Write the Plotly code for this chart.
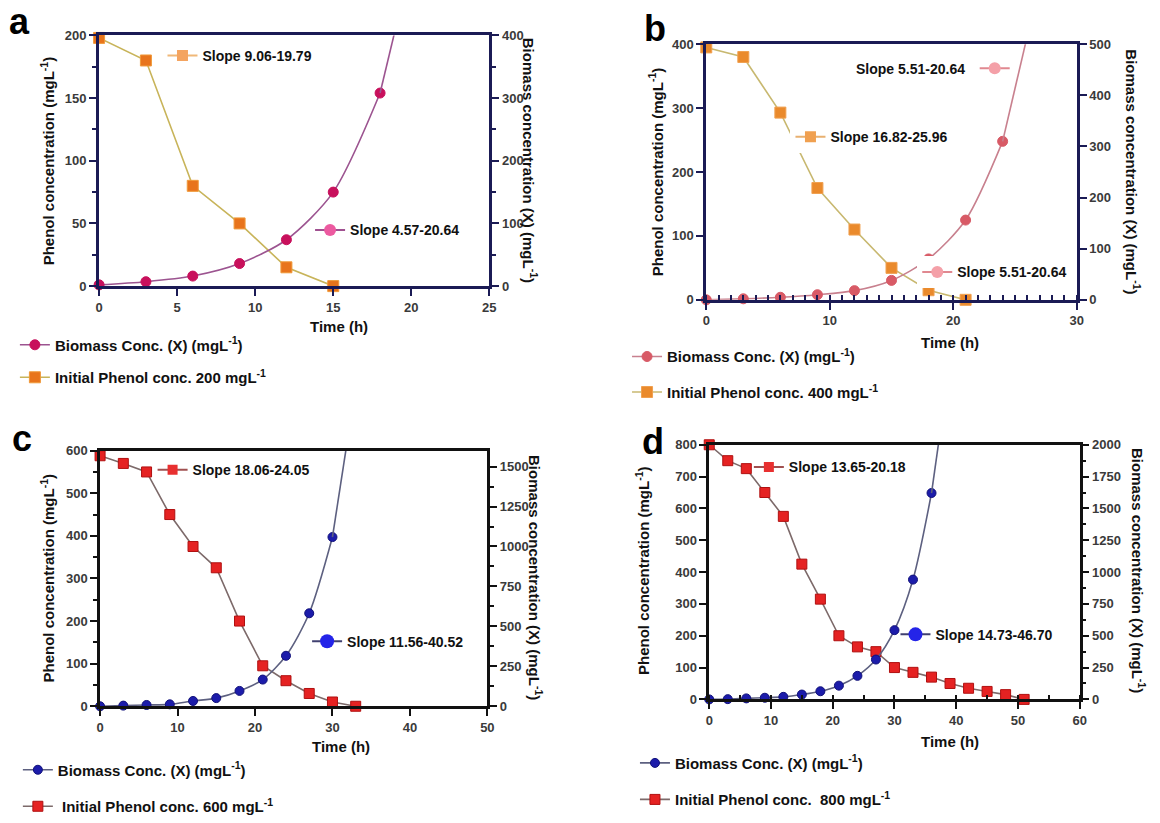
import plotly.graph_objects as go

W, H = 1160, 823
FONT = "Liberation Sans, Arial, Helvetica, sans-serif"

# ---------------- data ----------------
time_phenol_a = [0, 3, 6, 9, 12, 15]
phenol_a = [198, 180, 80, 50, 15, 0]
time_biomass_a = [0, 3, 6, 9, 12, 15, 18, 21]
biomass_a = [2, 7, 16, 36, 74, 150, 308, 620]

time_phenol_b = [0, 3, 6, 9, 12, 15, 18, 21]
phenol_b = [395, 380, 293, 175, 110, 50, 15, 0]
time_biomass_b = [0, 3, 6, 9, 12, 15, 18, 21, 24, 27]
biomass_b = [0, 2, 5, 10, 18, 38, 80, 156, 310, 620]

time_phenol_c = [0, 3, 6, 9, 12, 15, 18, 21, 24, 27, 30, 33]
phenol_c = [588, 570, 550, 450, 375, 325, 200, 95, 60, 30, 10, 0]
time_biomass_c = [0, 3, 6, 9, 12, 15, 18, 21, 24, 27, 30, 33]
biomass_c = [0, 4, 8, 12, 33, 51, 96, 167, 316, 582, 1059, 2000]

time_phenol_d = [0, 3, 6, 9, 12, 15, 18, 21, 24, 27, 30, 33, 36, 39, 42, 45, 48, 51]
phenol_d = [800, 750, 725, 650, 575, 425, 315, 200, 165, 150, 100, 85, 70, 50, 35, 25, 15, 0]
time_biomass_d = [0, 3, 6, 9, 12, 15, 18, 21, 24, 27, 30, 33, 36, 39]
biomass_d = [0, 2, 8, 13, 20, 38, 64, 108, 185, 313, 544, 941, 1621, 2650]

biomass_name = "Biomass Conc. (X) (mgL<sup>-1</sup>)"
phenol_names = ["Initial Phenol conc. 200 mgL<sup>-1</sup>",
                "Initial Phenol conc. 400 mgL<sup>-1</sup>",
                "\u00a0Initial Phenol conc. 600 mgL<sup>-1</sup>",
                "Initial Phenol conc.\u00a0 800 mgL<sup>-1</sup>"]
slope_phenol = ["Slope 9.06-19.79", "Slope 16.82-25.96", "Slope 18.06-24.05", "Slope 13.65-20.18"]
slope_biomass = ["Slope 4.57-20.64", "Slope 5.51-20.64", "Slope 11.56-40.52", "Slope 14.73-46.70"]
slope_biomass_b_top = "Slope 5.51-20.64"
panel_letters = ["a", "b", "c", "d"]
x_title = "Time (h)"
y_left_title = "Phenol concentration (mgL<sup>-1</sup>)"
y_right_title = "Biomass concentration (X) (mgL<sup>-1</sup>)"

CLEAR = "rgba(0,0,0,0)"


def fx(px):
    return px / W


def fy(py):
    return 1 - py / H


panels = [
    dict(tp=time_phenol_a, ph=phenol_a, tb=time_biomass_a, bio=biomass_a,
         dom=(96, 490, 29, 285), xr=[0, 25], xd=5, xminor=None,
         yl=[0, 200], yld=50, ylm=25, yr=[0, 400], yrd=100, yrm=50,
         axc="#1b1b55", axw=3,
         phl="#c8b45a", phm="#e8741c", phe="#f09a3a",
         bil="#9c5490", bim="#c8105c", bie="#c8105c",
         sph=("#f4a460", "#f0b878"), sbi=("#ec5aa0", "#a05090"),
         sph_pos=(160, 50), sbi_pos=(309, 228), sph_bg=CLEAR, sbi_bg=CLEAR,
         leg=(11, 346, 377), timepos=(338, 326),
         ltitle=(44, 157), rtitle=(531, 157), letter=(16, 15), msq=11, mci=10, sci=12),
    dict(tp=time_phenol_b, ph=phenol_b, tb=time_biomass_b, bio=biomass_b,
         dom=(709, 1083, 38, 299), xr=[0, 30], xd=10, xminor=1,
         yl=[0, 400], yld=100, ylm=None, yr=[0, 500], yrd=100, yrm=None,
         axc="#1b1b55", axw=3,
         phl="#c8b870", phm="#ea8a2c", phe="#f0a050",
         bil="#c8808e", bim="#d85a66", bie="#d85a66",
         sph=("#f0a050", "#e8b070"), sbi=("#f4a0a8", "#e08890"),
         sph_pos=(794, 133), sbi_pos=(922, 271), sph_bg="white", sbi_bg="white",
         leg=(629, 358, 392), timepos=(955, 343),
         ltitle=(658, 168), rtitle=(1140, 168), letter=(657, 22), msq=11, mci=10, sci=12),
    dict(tp=time_phenol_c, ph=phenol_c, tb=time_biomass_c, bio=biomass_c,
         dom=(97, 488, 453, 714), xr=[0, 50], xd=10, xminor=None,
         yl=[0, 600], yld=100, ylm=50, yr=[0, 1600], yrd=250, yrm=125,
         axc="#111111", axw=2.5,
         phl="#7d6a6a", phm="#e52222", phe="#b01010",
         bil="#5d6080", bim="#1c1caa", bie="#10107a",
         sph=("#e83030", "#a05050"), sbi=("#2424e8", "#404070"),
         sph_pos=(150, 473), sbi_pos=(306, 648), sph_bg=CLEAR, sbi_bg=CLEAR,
         leg=(14, 780, 815), timepos=(340, 755),
         ltitle=(44, 583), rtitle=(536, 583), letter=(18, 441), msq=10, mci=9, sci=14),
    dict(tp=time_phenol_d, ph=phenol_d, tb=time_biomass_d, bio=biomass_d,
         dom=(712, 1086, 447, 707), xr=[0, 60], xd=10, xminor=5,
         yl=[0, 800], yld=100, ylm=None, yr=[0, 2000], yrd=250, yrm=125,
         axc="#111111", axw=2.5,
         phl="#7d6a6a", phm="#e52222", phe="#b01010",
         bil="#5d6080", bim="#1c1caa", bie="#10107a",
         sph=("#e83030", "#a05050"), sbi=("#2424e8", "#404070"),
         sph_pos=(752, 470), sbi_pos=(900, 641), sph_bg=CLEAR, sbi_bg=CLEAR,
         leg=(637, 773, 808), timepos=(955, 750),
         ltitle=(644, 575), rtitle=(1146, 575), letter=(655, 444), msq=10, mci=9, sci=14),
]

fig = go.Figure()
layout = dict(width=W, height=H, margin=dict(l=0, r=0, t=0, b=0),
              paper_bgcolor="white", plot_bgcolor="white", showlegend=True)
annotations = []
legend_count = [0]
text_font = dict(family=FONT, size=15, color="#111", weight="bold")


def new_legend(x, y, bg="white", gap=0, size=14):
    legend_count[0] += 1
    key = "legend" if legend_count[0] == 1 else f"legend{legend_count[0]}"
    layout[key] = dict(x=fx(x), y=fy(y), xanchor="left", yanchor="middle",
                       bgcolor=bg, borderwidth=0, itemwidth=30,
                       tracegroupgap=gap, itemclick=False, itemdoubleclick=False,
                       font=dict(family=FONT, size=size, color="#111", weight="bold"))
    return key


tick_font = dict(family=FONT, size=13, color="#3a3a3a", weight="bold")

for i, p in enumerate(panels):
    n = i + 1
    xa = "x" if n == 1 else f"x{n}"
    yl = "y" if n == 1 else f"y{2 * n - 1}"
    yr = f"y{2 * n}"
    x0, x1, y0, y1 = p["dom"]

    xaxis = dict(domain=[fx(x0), fx(x1)], anchor=yl, range=p["xr"], dtick=p["xd"], tick0=0,
                 showline=True, linecolor=p["axc"], linewidth=p["axw"], mirror=True,
                 ticks="outside", ticklen=7, tickwidth=2, tickcolor=p["axc"],
                 showgrid=False, zeroline=False, tickfont=tick_font, fixedrange=True)
    if p["xminor"]:
        xaxis["minor"] = dict(dtick=p["xminor"], ticks="inside", ticklen=5, tickwidth=2,
                              tickcolor=p["axc"], showgrid=False)
    yleft = dict(domain=[fy(y1), fy(y0)], anchor=xa, range=p["yl"], dtick=p["yld"], tick0=0,
                 showline=True, linecolor=p["axc"], linewidth=p["axw"],
                 ticks="outside", ticklen=7, tickwidth=2, tickcolor=p["axc"],
                 showgrid=False, zeroline=False, tickfont=tick_font, fixedrange=True)
    if p["ylm"]:
        yleft["minor"] = dict(dtick=p["ylm"], ticks="outside", ticklen=4, tickwidth=2,
                              tickcolor=p["axc"], showgrid=False)
    yright = dict(overlaying=yl, side="right", anchor=xa, range=p["yr"], dtick=p["yrd"], tick0=0,
                  showline=True, linecolor=p["axc"], linewidth=p["axw"],
                  ticks="outside", ticklen=7, tickwidth=2, tickcolor=p["axc"],
                  showgrid=False, zeroline=False, tickfont=tick_font, fixedrange=True)
    if p["yrm"]:
        yright["minor"] = dict(dtick=p["yrm"], ticks="outside", ticklen=4, tickwidth=2,
                               tickcolor=p["axc"], showgrid=False)
    layout["xaxis" if n == 1 else f"xaxis{n}"] = xaxis
    layout["yaxis" if n == 1 else f"yaxis{2 * n - 1}"] = yleft
    layout[f"yaxis{2 * n}"] = yright

    # bottom legend
    lx, ly1, ly2 = p["leg"]
    bottom_leg = new_legend(lx, (ly1 + ly2) / 2, bg=CLEAR,
                            gap=max(ly2 - ly1 - 21, 0), size=15)

    # biomass (right axis)
    ymax = p["yr"][1]
    inside = [k for k, v in enumerate(p["bio"]) if v <= ymax]
    last = inside[-1]
    fig.add_trace(go.Scatter(
        x=p["tb"][:last + 1], y=p["bio"][:last + 1], mode="lines+markers",
        line=dict(color=p["bil"], width=1.6, shape="spline", smoothing=0.8),
        marker=dict(symbol="circle", size=p["mci"], color=p["bim"], line=dict(color=p["bie"], width=1)),
        name=biomass_name, legend=bottom_leg, legendgroup=f"bio{n}", cliponaxis=False,
        xaxis=xa, yaxis=yr))
    fig.add_trace(go.Scatter(
        x=p["tb"][last:], y=p["bio"][last:], mode="lines",
        line=dict(color=p["bil"], width=1.6, shape="spline", smoothing=0.8),
        showlegend=False, cliponaxis=True, xaxis=xa, yaxis=yr, hoverinfo="skip"))

    # phenol (left axis)
    fig.add_trace(go.Scatter(
        x=p["tp"], y=p["ph"], mode="lines+markers",
        line=dict(color=p["phl"], width=1.6),
        marker=dict(symbol="square", size=p["msq"], color=p["phm"], line=dict(color=p["phe"], width=1)),
        name=phenol_names[i], legend=bottom_leg, legendgroup=f"ph{n}", cliponaxis=False,
        xaxis=xa, yaxis=yl))

    # slope labels (legend-style keys)
    sx, sy = p["sph_pos"]
    lg = new_legend(sx, sy, bg=p["sph_bg"])
    fig.add_trace(go.Scatter(
        x=[None], y=[None], mode="lines+markers", name=slope_phenol[i],
        line=dict(color=p["sph"][1], width=2),
        marker=dict(symbol="square", size=p["msq"], color=p["sph"][0]),
        legend=lg, xaxis=xa, yaxis=yl))
    sx, sy = p["sbi_pos"]
    lg = new_legend(sx, sy, bg=p["sbi_bg"])
    fig.add_trace(go.Scatter(
        x=[None], y=[None], mode="lines+markers", name=slope_biomass[i],
        line=dict(color=p["sbi"][1], width=2),
        marker=dict(symbol="circle", size=p["sci"], color=p["sbi"][0]),
        legend=lg, xaxis=xa, yaxis=yr))
    if n == 2:
        lg = new_legend(980, 63, bg=CLEAR)
        fig.add_trace(go.Scatter(
            x=[None], y=[None], mode="lines+markers", name=" ",
            line=dict(color=p["sbi"][1], width=2),
            marker=dict(symbol="circle", size=p["sci"], color=p["sbi"][0]),
            legend=lg, xaxis=xa, yaxis=yr))
        annotations.append(dict(x=fx(972), y=fy(63), xref="paper", yref="paper",
                                text=slope_biomass_b_top, showarrow=False, xanchor="right",
                                yanchor="middle",
                                font=dict(family=FONT, size=14, color="#111", weight="bold")))

    # titles
    tx, ty = p["timepos"]
    annotations.append(dict(x=fx(tx), y=fy(ty), xref="paper", yref="paper", text=x_title,
                            showarrow=False, xanchor="center", yanchor="middle", font=text_font))
    tx, ty = p["ltitle"]
    annotations.append(dict(x=fx(tx), y=fy(ty), xref="paper", yref="paper", text=y_left_title,
                            showarrow=False, textangle=-90, xanchor="center", yanchor="middle",
                            font=text_font))
    tx, ty = p["rtitle"]
    annotations.append(dict(x=fx(tx), y=fy(ty), xref="paper", yref="paper", text=y_right_title,
                            showarrow=False, textangle=90, xanchor="center", yanchor="middle",
                            font=text_font))
    tx, ty = p["letter"]
    annotations.append(dict(x=fx(tx), y=fy(ty), xref="paper", yref="paper", text=panel_letters[i],
                            showarrow=False, xanchor="center", yanchor="middle",
                            font=dict(family=FONT, size=36, color="#000", weight="bold")))

layout["annotations"] = annotations
fig.update_layout(**layout)

fig.write_html("out.html", config={"displayModeBar": False},
               post_script="document.documentElement.style.margin='0px';"
                           "document.body.style.margin='0px';")
